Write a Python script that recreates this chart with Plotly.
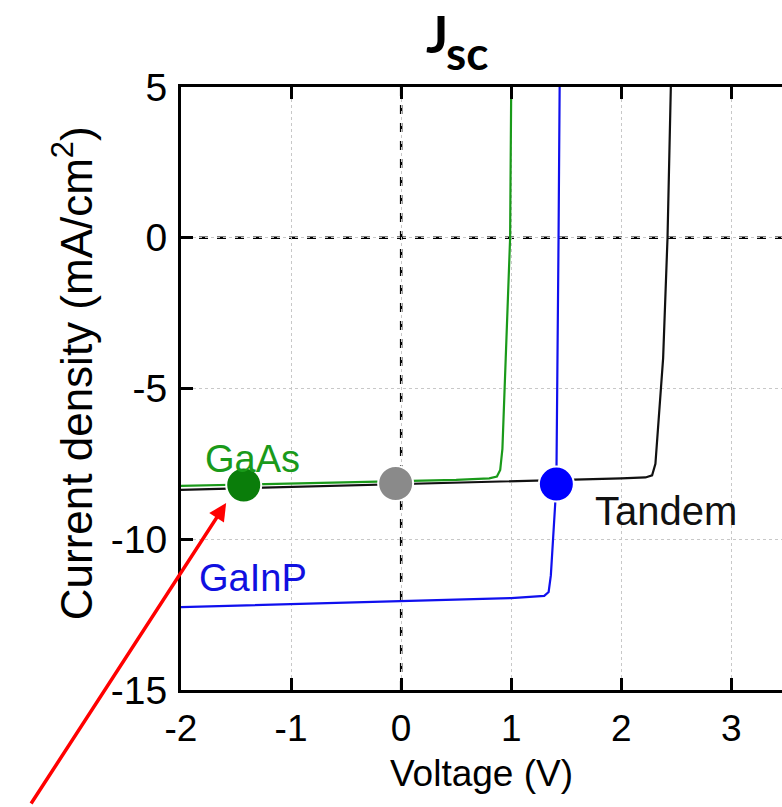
import plotly.graph_objects as go

# J-V curves of the two sub-cells and the series-connected tandem
gaas_v = [-2.0, -1.0, 0.0, 0.5, 0.8, 0.87, 0.9, 0.92, 0.95, 0.99, 1.0]
gaas_j = [-8.23, -8.15, -8.08, -8.03, -7.98, -7.92, -7.7, -7.0, -4.0, 0.0, 5.0]

gainp_v = [-2.0, -1.0, 0.0, 1.0, 1.3, 1.34, 1.36, 1.38, 1.41, 1.43, 1.44]
gainp_j = [-12.25, -12.15, -12.05, -11.95, -11.88, -11.75, -11.2, -10.0, -8.2, 0.0, 5.0]

tandem_v = [-2.0, -1.0, 0.0, 1.0, 2.0, 2.22, 2.28, 2.31, 2.34, 2.38, 2.42, 2.45]
tandem_j = [-8.36, -8.27, -8.18, -8.08, -7.98, -7.95, -7.88, -7.5, -6.0, -4.0, 0.0, 5.0]

# operating points at the tandem short-circuit current
dot_v = [-1.43, -0.05, 1.41]
dot_j = [-8.2, -8.15, -8.17]
dot_colors = ["#0a7d0a", "#8a8a8a", "#0000ff"]

# curve labels
label_text = ["GaAs", "GaInP", "Tandem"]
label_v = [-1.355, -1.35, 2.41]
label_j = [-7.35, -11.3, -9.05]
label_colors = ["#1a9a1a", "#1010e0", "#111111"]
label_sizes = [38, 38, 40]

x_ticks = [-2, -1, 0, 1, 2, 3]
y_ticks = [5, 0, -5, -10, -15]

GREEN = "#1a9a1a"
BLUE = "#1010ee"
FONT = "Liberation Sans"

fig = go.Figure()

fig.add_trace(go.Scatter(x=gaas_v, y=gaas_j, mode="lines",
                         line=dict(color=GREEN, width=2.2), showlegend=False))
fig.add_trace(go.Scatter(x=tandem_v, y=tandem_j, mode="lines",
                         line=dict(color="#111111", width=2.2), showlegend=False))
fig.add_trace(go.Scatter(x=gainp_v, y=gainp_j, mode="lines",
                         line=dict(color=BLUE, width=2.2), showlegend=False))
fig.add_trace(go.Scatter(x=dot_v, y=dot_j, mode="markers",
                         marker=dict(size=35, color=dot_colors,
                                     line=dict(color="white", width=2)),
                         showlegend=False, cliponaxis=False))

# dashed zero lines
fig.add_shape(type="line", xref="x", yref="paper", x0=0, x1=0, y0=0, y1=1,
              line=dict(color="black", width=2.5, dash="dash"), layer="below")
fig.add_shape(type="line", xref="paper", yref="y", x0=0, x1=1, y0=0, y1=0,
              line=dict(color="black", width=2.5, dash="dash"), layer="below")

for t, xv, yv, c, s in zip(label_text, label_v, label_j, label_colors, label_sizes):
    fig.add_annotation(x=xv, y=yv, text=t, showarrow=False,
                       font=dict(family=FONT, size=s, color=c))

# red pointer toward the GaAs operating point
fig.add_annotation(x=-1.59, y=-8.8, ax=-196, ay=302, text="",
                   showarrow=True, arrowhead=2, arrowsize=1.0, arrowwidth=3.5,
                   arrowcolor="#ff0000", standoff=0)

# title: J with subscript sc
fig.add_annotation(x=0.426, y=1.089, xref="paper", yref="paper",
                   text="<b>J</b>", showarrow=False,
                   xanchor="center", yanchor="middle",
                   font=dict(family="Lato", size=52, color="black"))
fig.add_annotation(x=0.476, y=1.058, xref="paper", yref="paper",
                   text="<b>sc</b>", showarrow=False,
                   xanchor="center", yanchor="middle",
                   font=dict(family="Lato", size=46, color="black"))

# y-axis title
fig.add_annotation(x=-0.18, y=0.525, xref="paper", yref="paper",
                   text="Current density (mA/cm<sup>2</sup>)", showarrow=False,
                   textangle=-90, xanchor="center", yanchor="middle",
                   font=dict(family=FONT, size=44, color="black"))

axis_common = dict(showline=True, linecolor="black", linewidth=3,
                   ticks="inside", ticklen=12, tickwidth=3, tickcolor="black",
                   zeroline=False)

fig.update_layout(
    width=782, height=807,
    margin=dict(l=181, r=0, t=87, b=117),
    paper_bgcolor="white", plot_bgcolor="white",
    font=dict(family=FONT, size=38, color="black"),
    xaxis=dict(range=[-2, 3.46], tickvals=x_ticks,
               ticktext=[str(v) for v in x_ticks],
               showgrid=True, gridcolor="#c8c8c8", griddash="dot", gridwidth=1.2,
               title=dict(text="Voltage (V)", standoff=12,
                          font=dict(family=FONT, size=37)),
               tickfont=dict(family=FONT, size=37), ticklabelstandoff=4,
               **axis_common),
    xaxis2=dict(range=[-2, 3.46], overlaying="x", side="top", matches="x",
                tickvals=x_ticks, showticklabels=False, showgrid=False,
                **axis_common),
    yaxis=dict(range=[-15, 5], tickvals=y_ticks,
               ticktext=[str(v) for v in y_ticks],
               showgrid=True, gridcolor="#c8c8c8", griddash="dot", gridwidth=1.2,
               tickfont=dict(family=FONT, size=39), ticklabelstandoff=3,
               **axis_common),
)

# invisible trace to bring the top axis into the layout
fig.add_trace(go.Scatter(x=[-2], y=[-15], xaxis="x2", mode="markers",
                         marker=dict(opacity=0), showlegend=False, hoverinfo="skip"))

fig.write_html("out.html")
